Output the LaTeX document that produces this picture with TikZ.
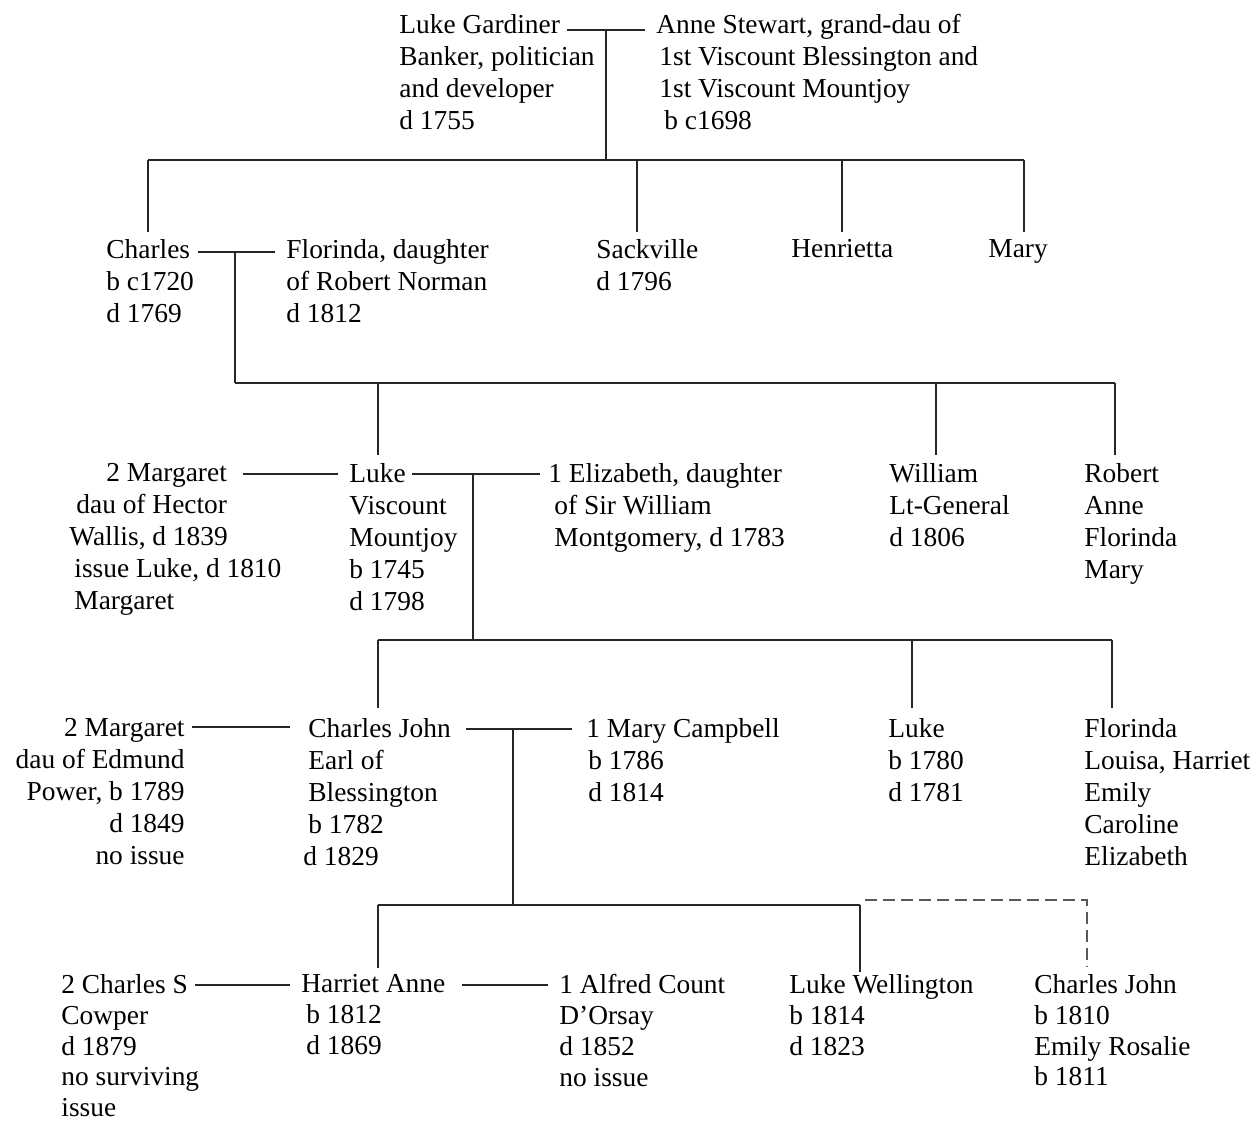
\documentclass[tikz,border=0pt]{standalone}
\usepackage{fontspec}
\setmainfont{Liberation Serif}
\newcommand{\treefont}{\fontsize{13.7}{16}\selectfont}
\newcommand{\lowfont}{\fontsize{13.7}{15.4}\selectfont}
\begin{document}
\begin{tikzpicture}[x=0.5pt, y=-0.5pt, every node/.style={anchor=north west, inner sep=0pt, align=left, font=\treefont}, line width=1.4pt]
		\tikzstyle{link} = [draw=black!85]
		\tikzstyle{unsure} = [draw=black!65, dash pattern=on 6pt off 3pt]
		\fill[white] (0,0) rectangle (1257,1121);
		\useasboundingbox (0,0) rectangle (1257,1121);
		
		% first generation
		\node (gardiner) at (398,13) {Luke Gardiner\\Banker, politician\\and developer\\d 1755};
		\node (anne) at (655,13) {Anne Stewart, grand-dau of\\\hspace*{1.5pt}1st Viscount Blessington and\\\hspace*{1.5pt}1st Viscount Mountjoy\\\hspace*{4pt}b c1698};
		
		% second generation
		\node (charles) at (105,238) {Charles\\b c1720\\d 1769};
		\node (florinda) at (285,238) {Florinda, daughter\\of Robert Norman\\d 1812};
		\node (sackville) at (595,238) {Sackville\\d 1796};
		\node (henrietta) at (790,238) {Henrietta};
		\node (mary) at (987,238) {Mary};
		
		% third generation
		\node (margaret) at (68,462) {\hspace*{18.5pt}2 Margaret\\\hspace*{3.5pt}dau of Hector\\Wallis, d 1839\\\hspace*{2.5pt}issue Luke, d 1810\\\hspace*{2.5pt}Margaret};
		\node (mountjoy) at (348,462) {Luke\\Viscount\\Mountjoy\\b 1745\\d 1798};
		\node (elizabeth) at (547,462) {1 Elizabeth, daughter\\\hspace*{3pt}of Sir William\\\hspace*{3pt}Montgomery, d 1783};
		\node (william) at (888,462) {William\\Lt-General\\d 1806};
		\node (robert) at (1083,462) {Robert\\Anne\\Florinda\\Mary};
		
		% fourth generation
		\node[anchor=north east, align=right] (power) at (186,717) {2 Margaret\\dau of Edmund\\Power, b 1789\\d 1849\\no issue};
		\node (blessington) at (307,717) {Charles John\\Earl of\\Blessington\\b 1782\\\hspace*{-2.5pt}d 1829};
		\node (campbell) at (585,717) {1 Mary Campbell\\\hspace*{1pt}b 1786\\\hspace*{1pt}d 1814};
		\node (luke) at (887,717) {Luke\\b 1780\\d 1781};
		\node (florinda2) at (1083,717) {Florinda\\Louisa, Harriet\\Emily\\Caroline\\Elizabeth};
		
		% fifth generation
		\node[font=\lowfont] (cowper) at (60,973) {2 Charles S\\Cowper\\d 1879\\no surviving\\issue};
		\node[font=\lowfont] (harriet) at (300,973) {Harriet Anne\\\hspace*{2.5pt}b 1812\\\hspace*{2.5pt}d 1869};
		\node[font=\lowfont] (dorsay) at (558,973) {1 Alfred Count\\D’Orsay\\d 1852\\no issue};
		\node[font=\lowfont] (wellington) at (788,973) {Luke Wellington\\b 1814\\d 1823};
		\node[font=\lowfont] (charles3) at (1033,973) {Charles John\\b 1810\\Emily Rosalie\\b 1811};
		
		% marriage lines and family bars
		\coordinate (wed1a) at (567,30);
		\coordinate (wed1b) at (645,30);
		\coordinate (fam1) at (606,30);
		\coordinate (bar1) at (606,160);
		\coordinate (wed2a) at (198,252);
		\coordinate (wed2b) at (275,252);
		\coordinate (fam2) at (235,252);
		\coordinate (bar2) at (235,383);
		\coordinate (wed3a) at (243,474);
		\coordinate (wed3b) at (338,474);
		\coordinate (wed3c) at (412,474);
		\coordinate (wed3d) at (540,474);
		\coordinate (fam3) at (473,474);
		\coordinate (bar3) at (473,640);
		\coordinate (wed4a) at (192,727);
		\coordinate (wed4b) at (290,727);
		\coordinate (wed4c) at (466,729);
		\coordinate (wed4d) at (572,729);
		\coordinate (fam4) at (513,729);
		\coordinate (bar4) at (513,905);
		\coordinate (wed5a) at (195,985);
		\coordinate (wed5b) at (290,985);
		\coordinate (wed5c) at (462,985);
		\coordinate (wed5d) at (548,985);
		
		% where the drops meet the children
		\coordinate (upcharles) at (148,232);
		\coordinate (upsackville) at (637,232);
		\coordinate (uphenrietta) at (842,232);
		\coordinate (upmary) at (1024,232);
		\coordinate (upmountjoy) at (378,455);
		\coordinate (upwilliam) at (936,455);
		\coordinate (uprobert) at (1115,455);
		\coordinate (upblessington) at (378,708);
		\coordinate (upluke) at (912,708);
		\coordinate (upflorinda) at (1112,708);
		\coordinate (upharriet) at (378,968);
		\coordinate (upwellington) at (860,972);
		\coordinate (dashcorner) at (865,900);
		\coordinate (upcharles3) at (1087,967);
		
		\draw[link] (wed1a) -- (wed1b);
		\draw[link] (fam1) -- (bar1);
		\draw[link] (upcharles |- bar1) -- (upmary |- bar1);
		\draw[link] (upcharles |- bar1) -- (upcharles);
		\draw[link] (upsackville |- bar1) -- (upsackville);
		\draw[link] (uphenrietta |- bar1) -- (uphenrietta);
		\draw[link] (upmary |- bar1) -- (upmary);
		
		\draw[link] (wed2a) -- (wed2b);
		\draw[link] (fam2) -- (bar2);
		\draw[link] (bar2) -- (uprobert |- bar2);
		\draw[link] (upmountjoy |- bar2) -- (upmountjoy);
		\draw[link] (upwilliam |- bar2) -- (upwilliam);
		\draw[link] (uprobert |- bar2) -- (uprobert);
		
		\draw[link] (wed3a) -- (wed3b);
		\draw[link] (wed3c) -- (wed3d);
		\draw[link] (fam3) -- (bar3);
		\draw[link] (upblessington |- bar3) -- (upflorinda |- bar3);
		\draw[link] (upblessington |- bar3) -- (upblessington);
		\draw[link] (upluke |- bar3) -- (upluke);
		\draw[link] (upflorinda |- bar3) -- (upflorinda);
		
		\draw[link] (wed4a) -- (wed4b);
		\draw[link] (wed4c) -- (wed4d);
		\draw[link] (fam4) -- (bar4);
		\draw[link] (upharriet |- bar4) -- (upwellington |- bar4);
		\draw[link] (upharriet |- bar4) -- (upharriet);
		\draw[link] (upwellington |- bar4) -- (upwellington);
		\draw[unsure] (dashcorner) -| (upcharles3);
		
		\draw[link] (wed5a) -- (wed5b);
		\draw[link] (wed5c) -- (wed5d);
	\end{tikzpicture}
\end{document}
